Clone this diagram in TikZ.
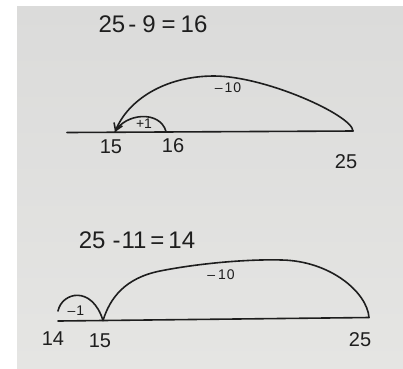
\documentclass[tikz,border=0pt]{standalone}
\usepackage{fontspec}
\setmainfont{Liberation Sans}
\usetikzlibrary{arrows.meta}
\definecolor{papertop}{RGB}{219,219,218}
\definecolor{papermid}{RGB}{233,233,231}
\definecolor{paperbot}{RGB}{229,229,227}
\definecolor{ink}{RGB}{30,30,30}
\begin{document}
\begin{tikzpicture}[x=1pt,y=-1pt,
  pen/.style={line width=1.6pt, draw=ink, line cap=round, line join=round},
  eqtext/.style={font=\fontsize{24}{24}\selectfont, text=ink, inner sep=0pt},
  numlbl/.style={font=\fontsize{20}{20}\selectfont, text=ink, inner sep=0pt},
  jumplbl/.style={font=\fontsize{14}{14}\selectfont, text=ink, inner sep=0pt}]
\useasboundingbox (0,0) rectangle (403,368);
\fill[white] (0,0) rectangle (403,368);
\shade[top color=papertop, middle color=papermid, bottom color=paperbot] (17,6) rectangle (403,368);

% ---------- first number line ----------
\node[eqtext] (eqA) at (153,24) {25\hspace{3pt}-\hspace{6pt}9\hspace{6pt}=\hspace{5pt}16};
\coordinate (a0) at (67,132.5);
\coordinate (a15) at (115,132);
\coordinate (a16) at (166,131.5);
\coordinate (a25) at (353,131);
\coordinate (apeak) at (214,76);
\draw[pen] (a0) -- (a25);
\draw[pen] (a15) .. controls (125,113) and (160,110) .. (a16);
\draw[pen, -{Straight Barb[length=7pt,width=9pt,line width=1.6pt]}]
  (a25) .. controls (352,115) and (265,76) .. (apeak)
        .. controls (165,76) and (128,100) .. (a15);
\node[jumplbl] (lp1) at (144,124) {+1};
\node[jumplbl] (lm10a) at (228,88) {–\hspace{2pt}1\hspace{1pt}0};
\node[numlbl] (n15a) at (111,147) {15};
\node[numlbl] (n16a) at (173,146) {16};
\node[numlbl] (n25a) at (346,162) {25};

% ---------- second number line ----------
\node[eqtext] (eqB) at (137,240) {25\hspace{7pt}-\hspace{1pt}11\hspace{4pt}=\hspace{4pt}14};
\coordinate (b14) at (58,321);
\coordinate (b14s) at (58,311);
\coordinate (b15) at (103,320.5);
\coordinate (b25) at (369,317.5);
\coordinate (bk1) at (160,271);
\coordinate (bpeak) at (282,260);
\draw[pen] (b14) -- (b25);
\draw[pen] (b14s) .. controls (62,292) and (92,285) .. (b15);
\draw[pen] (b15) .. controls (110,298) and (125,278) .. (bk1)
           .. controls (200,263) and (250,259) .. (bpeak)
           .. controls (330,261) and (367,292) .. (b25);
\node[jumplbl] (lm1) at (76,311) {–\hspace{1pt}1};
\node[jumplbl] (lm10b) at (221,275) {–\hspace{3pt}1\hspace{1pt}0};
\node[numlbl] (n14b) at (53,339) {14};
\node[numlbl] (n15b) at (100,341) {15};
\node[numlbl] (n25b) at (360,340) {25};
\end{tikzpicture}
\end{document}
